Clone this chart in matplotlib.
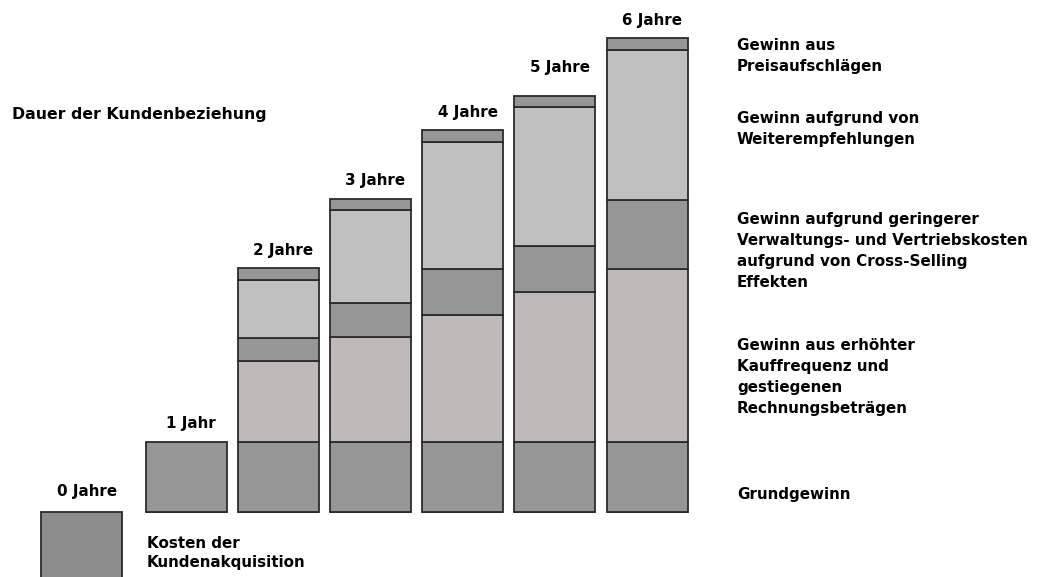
import numpy as np
import matplotlib
matplotlib.use('Agg')
import matplotlib.pyplot as plt

# Kundenbeziehung: Gewinnaufbau je Jahr (Jahr 0 = Akquisitionskosten)
jahre = ['0 Jahre', '1 Jahr', '2 Jahre', '3 Jahre', '4 Jahre', '5 Jahre', '6 Jahre']
kosten = [-70, 0, 0, 0, 0, 0, 0]
grundgewinn = [0, 70, 70, 70, 70, 70, 70]
kauffrequenz = [0, 0, 81, 105, 127, 150, 173]
cross_selling = [0, 0, 23, 34, 46, 46, 69]
empfehlungen = [0, 0, 58, 93, 127, 139, 150]
preisaufschlag = [0, 0, 12, 11, 12, 11, 12]

legende = [
    ('Gewinn aus\nPreisaufschlägen', 56),
    ('Gewinn aufgrund von\nWeiterempfehlungen', 129),
    ('Gewinn aufgrund geringerer\nVerwaltungs- und Vertriebskosten\naufgrund von Cross-Selling\nEffekten', 251),
    ('Gewinn aus erhöhter\nKauffrequenz und\ngestiegenen\nRechnungsbeträgen', 377),
    ('Grundgewinn', 494),
]

c_dunkel = '#969696'
c_kosten = '#8c8c8c'
c_hell = '#c0c0c0'
c_rosa = '#c0b9b9'
kante = '#2b2b2b'

plt.rcParams['font.family'] = ['DejaVu Sans']
plt.rcParams['font.weight'] = 'bold'
fs = 10.9

W, H = 1038, 577
fig = plt.figure(figsize=(W / 100, H / 100), dpi=100)
ax = fig.add_axes([0, 0, 1, 1])

# x: eine Einheit = Balkenabstand, y: eine Einheit = ein Pixel
step = 92.2
x = np.arange(len(jahre), dtype=float)
x[0] = -0.128
breite = 81 / step
ax.set_xlim(1 - 186 / step, 1 + (W - 186) / step)
ax.set_ylim(-65.5, 511.5)
ax.axis('off')

kw = dict(width=breite, edgecolor=kante, linewidth=1.3)
ax.bar(x, kosten, color=c_kosten, **kw)
unten = np.zeros(len(jahre))
for werte, farbe in [(grundgewinn, c_dunkel), (kauffrequenz, c_rosa),
                     (cross_selling, c_dunkel), (empfehlungen, c_hell),
                     (preisaufschlag, c_dunkel)]:
    werte = np.array(werte, dtype=float)
    m = werte > 0
    ax.bar(x[m], werte[m], bottom=unten[m], color=farbe, **kw)
    unten += werte

# Jahresbeschriftung über den Balken
oben = np.maximum(unten, 0)
abstand = [20, 18, 17, 18, 17, 28, 17]
for xi, yi, txt, d in zip(x, oben, jahre, abstand):
    ax.text(xi + 5 / step, yi + d, txt, ha='center', va='center',
            fontsize=fs, fontweight='bold')

ax.text(12 / step + ax.get_xlim()[0], 511.5 - 115, 'Dauer der Kundenbeziehung',
        ha='left', va='center', fontsize=fs + 0.4, fontweight='bold')

for txt, ypix in legende:
    fig.text(737 / W, 1 - ypix / H, txt, ha='left', va='center',
             fontsize=fs, fontweight='bold', linespacing=1.5)

fig.text(147 / W, 1 - 553 / H, 'Kosten der\nKundenakquisition', ha='left',
         va='center', fontsize=fs, fontweight='bold', linespacing=1.35)

fig.savefig('out.png', dpi=100)
